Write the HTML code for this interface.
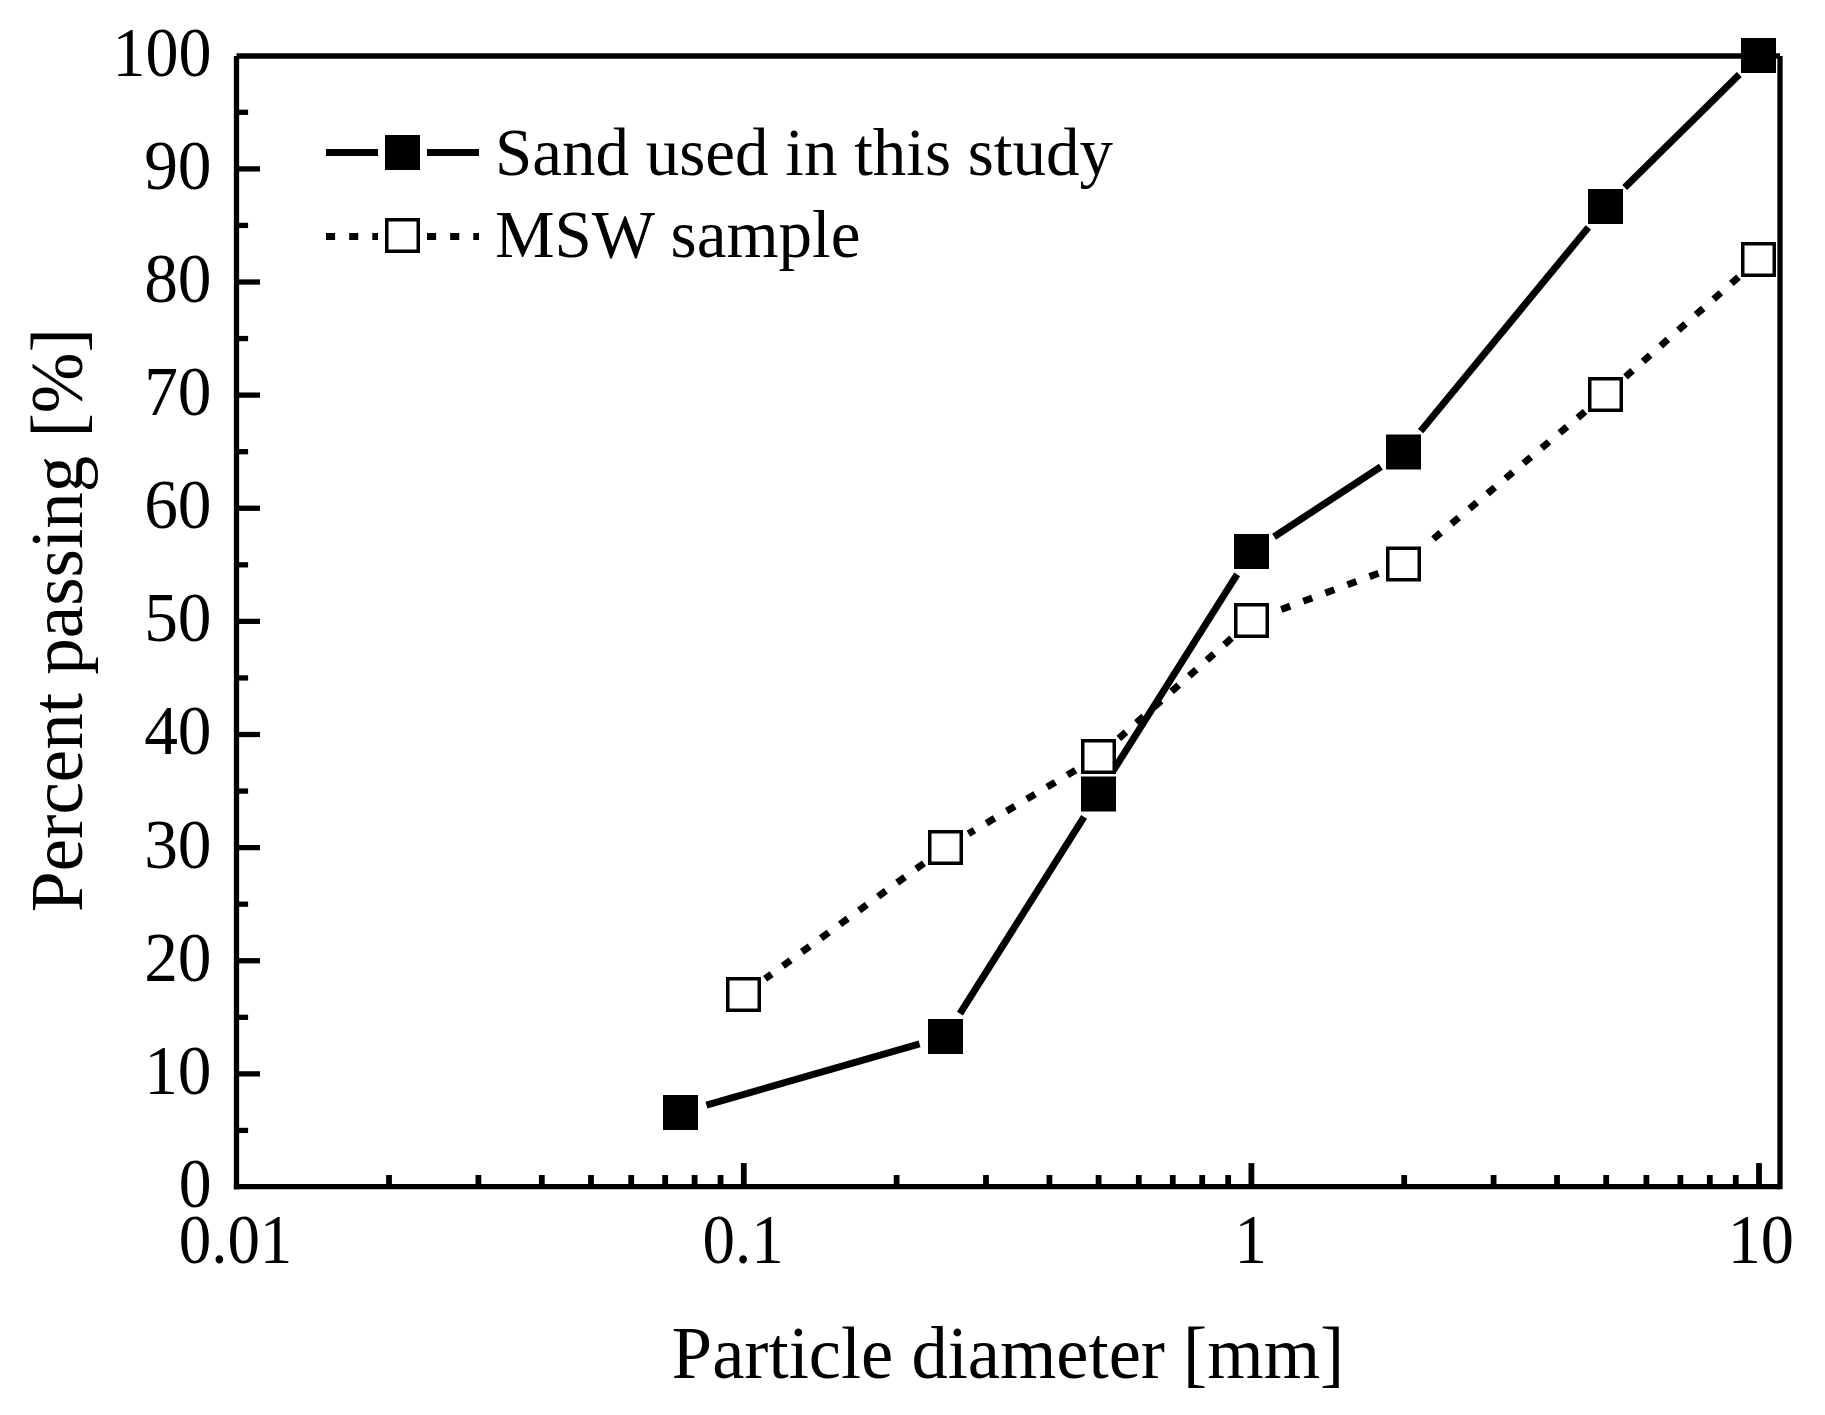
<!DOCTYPE html>
<html lang="en"><head><meta charset="utf-8"><title>Particle size distribution</title>
<style>html,body{margin:0;padding:0;background:#fff}body{width:1825px;height:1415px;overflow:hidden}svg{display:block}text{font-family:"Liberation Serif","Times New Roman",serif;fill:#000}</style></head><body>
<svg width="1825" height="1415" viewBox="0 0 1825 1415">
<rect width="1825" height="1415" fill="#fff"/>
<g stroke="#000" stroke-width="5.30" fill="none" stroke-linecap="butt">
<path d="M236.50 56.00 V1189.25"/>
<path d="M1780.00 56.00 V1189.25"/>
<path d="M236.50 56.00 H1780.00"/>
<path d="M233.85 1186.60 H1780.00"/>
<path d="M236.50 1130.44 h11.60"/>
<path d="M236.50 1073.88 h23.50"/>
<path d="M236.50 1017.31 h11.60"/>
<path d="M236.50 960.75 h23.50"/>
<path d="M236.50 904.19 h11.60"/>
<path d="M236.50 847.62 h23.50"/>
<path d="M236.50 791.06 h11.60"/>
<path d="M236.50 734.50 h23.50"/>
<path d="M236.50 677.94 h11.60"/>
<path d="M236.50 621.38 h23.50"/>
<path d="M236.50 564.81 h11.60"/>
<path d="M236.50 508.25 h23.50"/>
<path d="M236.50 451.69 h11.60"/>
<path d="M236.50 395.12 h23.50"/>
<path d="M236.50 338.56 h11.60"/>
<path d="M236.50 282.00 h23.50"/>
<path d="M236.50 225.44 h11.60"/>
<path d="M236.50 168.88 h23.50"/>
<path d="M236.50 112.31 h11.60"/>
<path stroke-width="5.8" d="M389.00 1186.60 v-11.60"/>
<path stroke-width="5.8" d="M478.39 1186.60 v-11.60"/>
<path stroke-width="5.8" d="M541.81 1186.60 v-11.60"/>
<path stroke-width="5.8" d="M591.00 1186.60 v-11.60"/>
<path stroke-width="5.8" d="M631.19 1186.60 v-11.60"/>
<path stroke-width="5.8" d="M665.17 1186.60 v-11.60"/>
<path stroke-width="5.8" d="M694.61 1186.60 v-11.60"/>
<path stroke-width="5.8" d="M720.57 1186.60 v-11.60"/>
<path stroke-width="5.8" d="M743.80 1186.60 v-23.50"/>
<path stroke-width="5.8" d="M896.60 1186.60 v-11.60"/>
<path stroke-width="5.8" d="M985.99 1186.60 v-11.60"/>
<path stroke-width="5.8" d="M1049.41 1186.60 v-11.60"/>
<path stroke-width="5.8" d="M1098.60 1186.60 v-11.60"/>
<path stroke-width="5.8" d="M1138.79 1186.60 v-11.60"/>
<path stroke-width="5.8" d="M1172.77 1186.60 v-11.60"/>
<path stroke-width="5.8" d="M1202.21 1186.60 v-11.60"/>
<path stroke-width="5.8" d="M1228.17 1186.60 v-11.60"/>
<path stroke-width="5.8" d="M1251.40 1186.60 v-23.50"/>
<path stroke-width="5.8" d="M1404.20 1186.60 v-11.60"/>
<path stroke-width="5.8" d="M1493.59 1186.60 v-11.60"/>
<path stroke-width="5.8" d="M1557.01 1186.60 v-11.60"/>
<path stroke-width="5.8" d="M1606.20 1186.60 v-11.60"/>
<path stroke-width="5.8" d="M1646.39 1186.60 v-11.60"/>
<path stroke-width="5.8" d="M1680.37 1186.60 v-11.60"/>
<path stroke-width="5.8" d="M1709.81 1186.60 v-11.60"/>
<path stroke-width="5.8" d="M1735.77 1186.60 v-11.60"/>
<path stroke-width="5.8" d="M1759.00 1186.60 v-23.50"/>
</g>
<g font-size="68.4" text-anchor="end">
<text transform="translate(211.5 1206.9) scale(0.96 1.03)">0</text>
<text transform="translate(211.5 1093.8) scale(0.985 1.03)">10</text>
<text transform="translate(211.5 980.6) scale(0.985 1.03)">20</text>
<text transform="translate(211.5 867.5) scale(0.985 1.03)">30</text>
<text transform="translate(211.5 754.4) scale(0.985 1.03)">40</text>
<text transform="translate(211.5 641.3) scale(0.985 1.03)">50</text>
<text transform="translate(211.5 528.1) scale(0.985 1.03)">60</text>
<text transform="translate(211.5 415.0) scale(0.985 1.03)">70</text>
<text transform="translate(211.5 301.9) scale(0.985 1.03)">80</text>
<text transform="translate(211.5 188.8) scale(0.985 1.03)">90</text>
<text transform="translate(211.5 75.7) scale(0.965 1.03)">100</text>
</g>
<g font-size="68.4" text-anchor="middle">
<text transform="translate(235.5 1263.3) scale(0.95 1.03)">0.01</text>
<text transform="translate(743.1 1263.3) scale(0.95 1.03)">0.1</text>
<text transform="translate(1250.7 1263.3) scale(0.95 1.03)">1</text>
<text transform="translate(1760.8 1263.3) scale(0.97 1.03)">10</text>
</g>
<text font-size="72.5" text-anchor="middle" transform="translate(1008.0 1377.8) scale(1 1.025)">Particle diameter [mm]</text>
<text font-size="73" text-anchor="middle" transform="translate(82.4 620.0) rotate(-90)">Percent passing [%]</text>
<g stroke="#000" stroke-width="7" fill="none">
<path d="M706.45 1105.06 L919.55 1043.94"/>
<path d="M959.91 1013.67 L1084.09 816.83"/>
<path d="M1112.91 771.17 L1237.09 574.33"/>
<path d="M1274.09 536.71 L1380.91 466.79"/>
<path d="M1420.66 431.15 L1588.34 227.35"/>
<path d="M1624.72 187.53 L1739.28 74.47"/>
</g>
<g fill="#000">
<rect x="663.00" y="1095.00" width="35" height="35"/>
<rect x="928.00" y="1019.00" width="35" height="35"/>
<rect x="1081.00" y="776.50" width="35" height="35"/>
<rect x="1234.00" y="534.00" width="35" height="35"/>
<rect x="1386.00" y="434.50" width="35" height="35"/>
<rect x="1588.00" y="189.00" width="35" height="35"/>
<rect x="1741.00" y="38.00" width="35" height="35"/>
</g>
<g stroke="#000" stroke-width="7" fill="none">
<path d="M923.91 863.21 L765.09 978.79" stroke-dasharray="9.5 14.05"/>
<path d="M1075.55 770.15 L968.45 833.85" stroke-dasharray="9.5 14.05"/>
<path d="M1231.54 638.24 L1118.46 738.76" stroke-dasharray="9.5 14.05"/>
<path d="M1378.47 573.30 L1276.53 611.20" stroke-dasharray="9.5 14.05"/>
<path d="M1585.05 411.66 L1423.95 546.84" stroke-dasharray="9.5 14.05"/>
<path d="M1738.48 277.17 L1625.52 376.83" stroke-dasharray="9.5 14.05"/>
</g>
<g fill="#fff" stroke="#000" stroke-width="3.5">
<rect x="727.75" y="978.75" width="31.5" height="31.5"/>
<rect x="929.75" y="831.75" width="31.5" height="31.5"/>
<rect x="1082.75" y="740.75" width="31.5" height="31.5"/>
<rect x="1235.75" y="604.75" width="31.5" height="31.5"/>
<rect x="1387.75" y="548.25" width="31.5" height="31.5"/>
<rect x="1589.75" y="378.75" width="31.5" height="31.5"/>
<rect x="1742.75" y="243.75" width="31.5" height="31.5"/>
</g>
<g stroke="#000" stroke-width="7" fill="none">
<path d="M326 152.6 H378"/><path d="M427 152.6 H479"/>
<path d="M326 236.5 H378" stroke-dasharray="9.1 14.05"/><path d="M427 236.5 H479" stroke-dasharray="9.1 14.05"/>
</g>
<rect x="385" y="135" width="35" height="35" fill="#000"/>
<rect x="386.75" y="219.75" width="31.5" height="31.5" fill="#fff" stroke="#000" stroke-width="3.5"/>
<text font-size="67" x="495" y="174.8">Sand used in this study</text>
<text font-size="67" x="495" y="256.7">MSW sample</text>
</svg></body></html>
